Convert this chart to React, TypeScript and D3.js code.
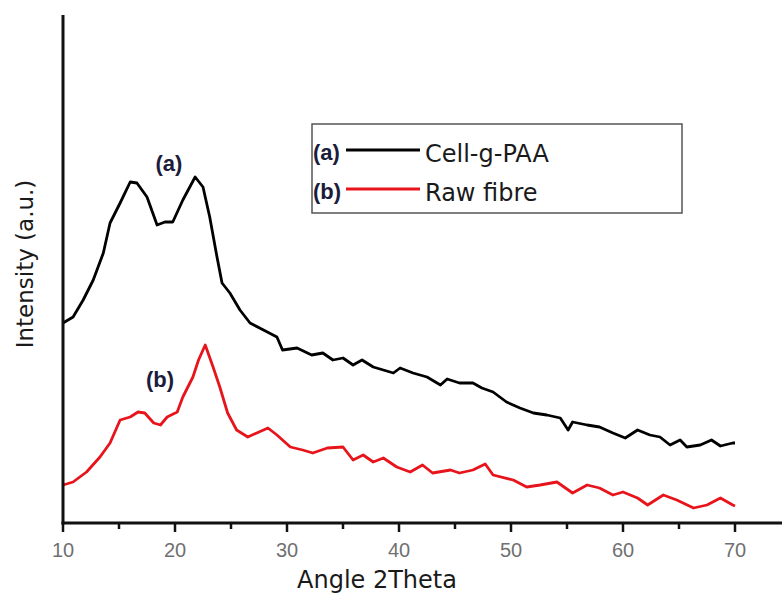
import * as d3 from "d3";

// 2θ positions and intensities (a.u.)
const cellTheta = [
  10, 10.9, 11.8, 12.7, 13.6, 14.2, 15.1, 16.0, 16.6, 17.5, 18.4, 19.1, 19.8, 20.7, 21.8, 22.5,
  23.1, 23.75, 24.2, 24.9, 25.8, 26.7, 27.9, 29.1, 29.6, 30.9, 32.2, 33.2, 34.1, 35.0, 35.9,
  36.7, 37.7, 39.5, 40.1, 41.25, 42.5, 43.7, 44.3, 45.4, 46.6, 47.4, 48.4, 49.6, 50.8, 52.0,
  53.2, 54.4, 55.1, 55.5, 56.8, 57.9, 59.1, 60.2, 61.3, 62.4, 63.3, 64.2, 65.1, 65.7, 66.9,
  67.9, 68.7, 69.8, 70,
];
const cellIntensity = [
  200, 206, 223, 243, 270, 300, 320, 341, 340, 326, 298, 301, 301, 323, 346, 336,
  306, 266, 240, 230, 213, 200, 193, 186, 173, 175, 168, 170, 163, 165, 158,
  163, 156, 150, 155, 150, 146, 138, 144, 140, 140, 135, 131, 121, 115, 110,
  108, 105, 93, 101, 98, 96, 90, 85, 93, 88, 86, 78, 83, 76, 78,
  83, 77, 80, 80,
];

const rawTheta = [
  10, 10.9, 12.1, 13.3, 14.2, 15.1, 16.0, 16.7, 17.3, 18.1, 18.7, 19.3, 20.2, 20.7, 21.6, 22.1,
  22.7, 23.4, 24.0, 24.7, 25.5, 26.5, 27.3, 28.3, 29.1, 30.3, 31.4, 32.3, 33.6, 35.0, 35.9,
  36.8, 37.7, 38.6, 39.8, 41.0, 42.1, 43.0, 44.6, 45.4, 46.6, 47.7, 48.4, 50.2, 51.4, 52.6,
  54.1, 55.5, 56.8, 57.9, 59.1, 60.0, 61.3, 62.2, 63.6, 64.8, 66.3, 67.5, 68.7, 69.8, 70,
];
const rawIntensity = [
  38, 41, 51, 66, 80, 103, 106, 111, 110, 100, 98, 106, 111, 126, 146, 163,
  178, 156, 136, 110, 93, 86, 90, 95, 88, 76, 73, 70, 75, 76, 63,
  68, 61, 65, 56, 51, 58, 50, 53, 50, 53, 59, 48, 43, 36, 38,
  41, 30, 38, 35, 28, 31, 25, 18, 28, 23, 15, 18, 25, 18, 17,
];

const majorTicks = [10, 20, 30, 40, 50, 60, 70];
const minorTicks = [15, 25, 35, 45, 55, 65];

const legendItems = [
  { tag: "(a)", label: "Cell-g-PAA", color: "#000000" },
  { tag: "(b)", label: "Raw fibre", color: "#e8141c" },
];

const width = 782;
const height = 595;
const margin = { top: 15, right: 0, bottom: 72, left: 63 };
const axisY = height - margin.bottom;
const sans = "'Liberation Sans', Arial, sans-serif";
const wide = "'DejaVu Sans', Verdana, sans-serif";
const navy = "#1c1c3c";

export default function App() {
  const x = d3.scaleLinear().domain([10, 70]).range([margin.left, 735]);
  const y = d3.scaleLinear().domain([0, 508]).range([axisY, margin.top]);

  const line = d3
    .line<[number, number]>()
    .x((d) => x(d[0]))
    .y((d) => y(d[1]));

  const cellPath = line(cellTheta.map((t, i) => [t, cellIntensity[i]]));
  const rawPath = line(rawTheta.map((t, i) => [t, rawIntensity[i]]));

  return (
    <div style={{ position: "fixed", left: 0, top: 0 }}>
      <svg width={width} height={height} style={{ display: "block", background: "#fff" }}>
        <path d={cellPath ?? ""} fill="none" stroke="#000" strokeWidth={2.8} strokeLinejoin="round" />
        <path d={rawPath ?? ""} fill="none" stroke="#e8141c" strokeWidth={2.8} strokeLinejoin="round" />

        {/* axes */}
        <line x1={margin.left} x2={margin.left} y1={margin.top} y2={axisY + 1.5} stroke="#111" strokeWidth={3} />
        <line x1={margin.left - 1.5} x2={width} y1={axisY} y2={axisY} stroke="#111" strokeWidth={3} />
        {majorTicks.map((t) => (
          <g key={t}>
            <line x1={x(t)} x2={x(t)} y1={axisY} y2={axisY + 9} stroke="#111" strokeWidth={2.5} />
            <text x={x(t)} y={557} textAnchor="middle" fontFamily={sans} fontSize={20} fill="#707070">
              {t}
            </text>
          </g>
        ))}
        {minorTicks.map((t) => (
          <line key={t} x1={x(t)} x2={x(t)} y1={axisY} y2={axisY + 6} stroke="#111" strokeWidth={2.5} />
        ))}

        <text x={377} y={588} textAnchor="middle" fontFamily={wide} fontSize={24} fill="#1a1a1a">
          Angle 2Theta
        </text>
        <text
          transform={`translate(33, 264) rotate(-90)`}
          textAnchor="middle"
          fontFamily={wide}
          fontSize={23}
          fill="#1a1a1a"
        >
          Intensity (a.u.)
        </text>

        {/* peak annotations */}
        <text x={169} y={171} textAnchor="middle" fontFamily={sans} fontWeight="bold" fontSize={22} fill={navy}>
          (a)
        </text>
        <text x={160} y={387} textAnchor="middle" fontFamily={sans} fontWeight="bold" fontSize={22} fill={navy}>
          (b)
        </text>

        {/* legend */}
        <rect x={312} y={124} width={370} height={89} fill="#fff" stroke="#555" strokeWidth={1.5} />
        {legendItems.map((item, i) => {
          const ly = 150 + i * 39;
          return (
            <g key={item.label}>
              <text x={313} y={ly + 10} fontFamily={sans} fontWeight="bold" fontSize={22} fill={navy}>
                {item.tag}
              </text>
              <line x1={346} x2={420} y1={ly} y2={ly} stroke={item.color} strokeWidth={2.8} />
              <text x={425} y={ly + 12} fontFamily={wide} fontSize={24} fill="#1a1a1a">
                {item.label}
              </text>
            </g>
          );
        })}
      </svg>
    </div>
  );
}
